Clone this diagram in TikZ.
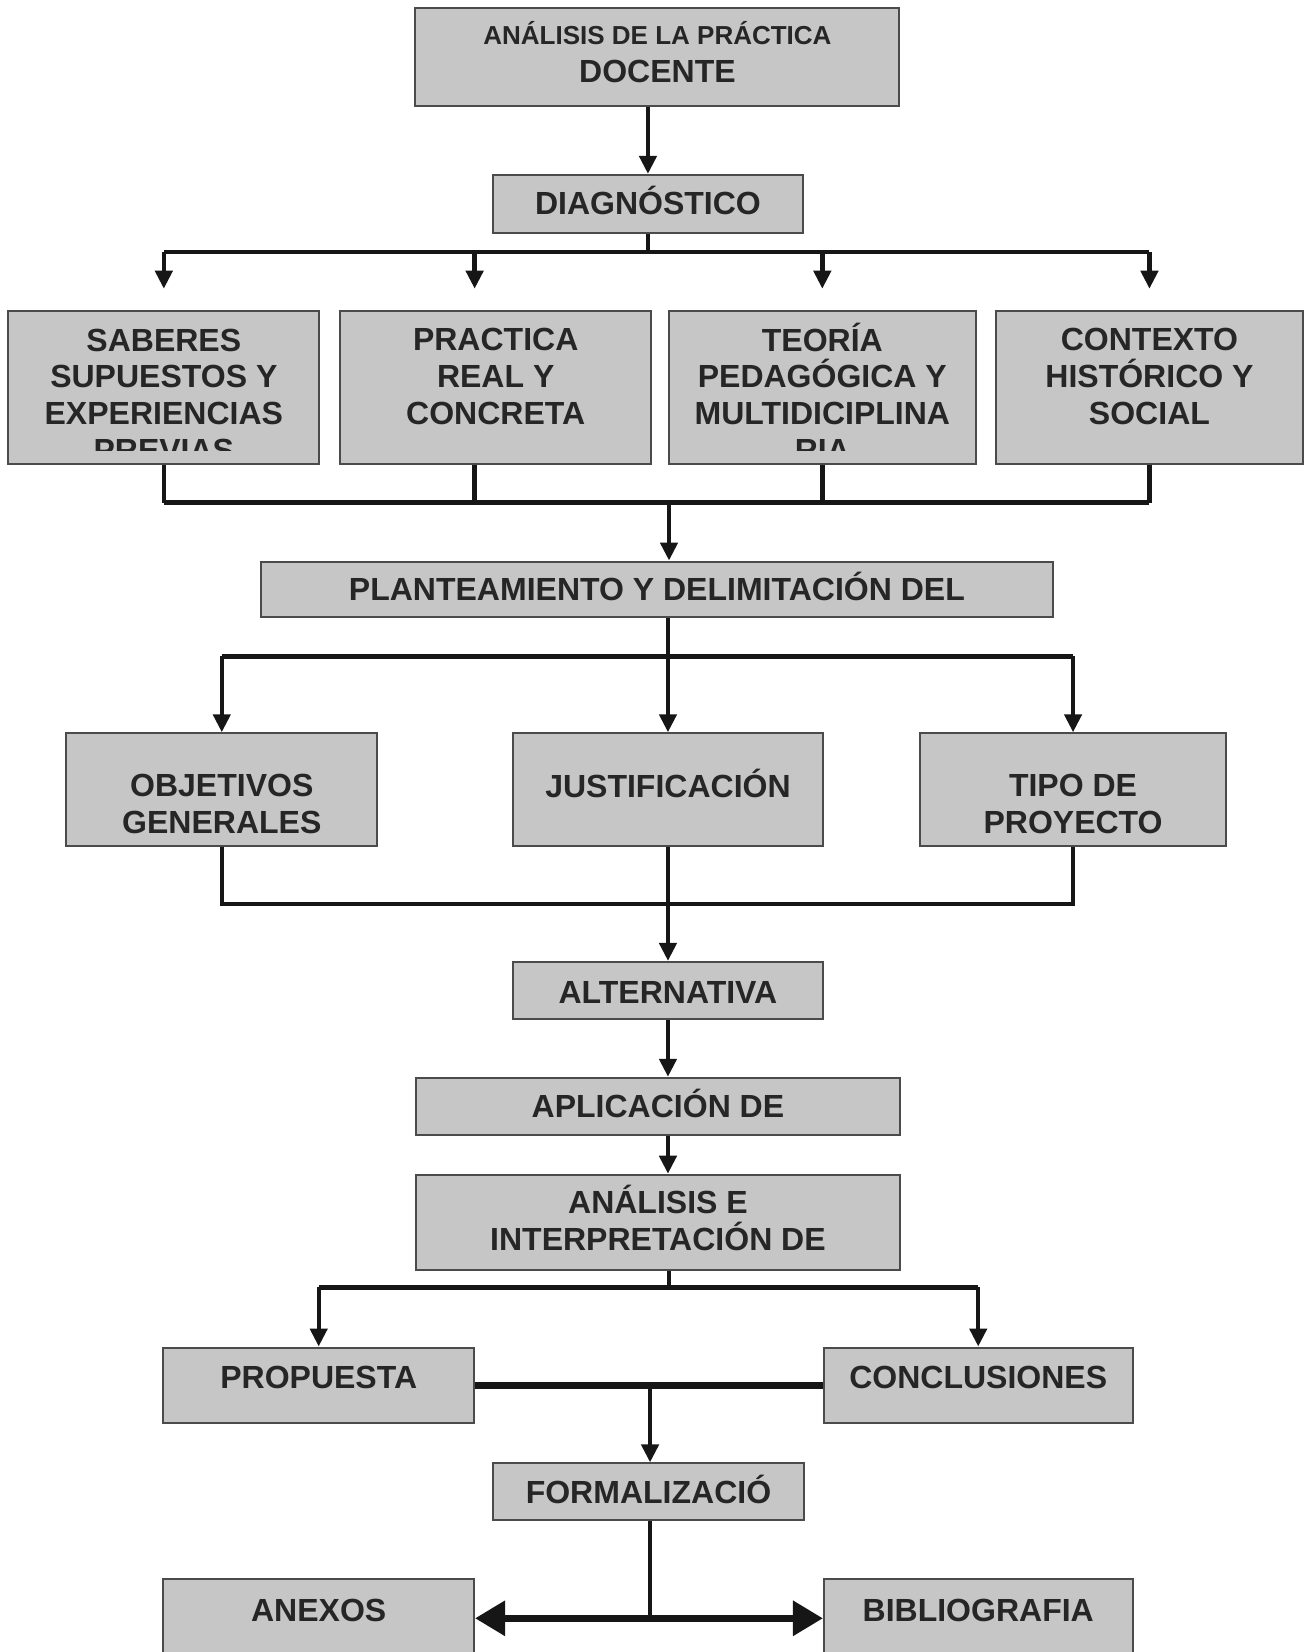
\documentclass[tikz,border=0pt]{standalone}
\usepackage{fontspec}
\setmainfont{Liberation Sans}
\usetikzlibrary{arrows.meta,fit,calc}
\definecolor{boxfill}{RGB}{198,198,198}
\definecolor{boxline}{RGB}{75,75,75}
\definecolor{txtcol}{RGB}{38,38,38}
\definecolor{lncol}{RGB}{22,22,22}
\begin{document}
\begin{tikzpicture}[x=0.5266pt,y=-0.5266pt,
  box/.style={draw=boxline,line width=1pt,fill=boxfill,inner sep=0pt},
  txt/.style={font=\fontsize{16}{18.4}\selectfont\bfseries,text=txtcol,align=center,inner sep=0pt,anchor=base},
  smalltxt/.style={txt,font=\fontsize{13}{15}\selectfont\bfseries},
  ln/.style={draw=lncol,line width=2.2pt},
  thickln/.style={draw=lncol,line width=3.2pt},
  arr/.style={ln,-{Triangle[length=9pt,width=8.5pt]}},
  dblarr/.style={thickln,{Triangle[length=15pt,width=17pt]}-{Triangle[length=15pt,width=17pt]}}
]
\clip (0,0) rectangle (1241,1568);
\fill[white] (0,0) rectangle (1241,1568);

% boxes
\node[box,fit={(394,8) (853,101)}] (top) {};
\node[box,fit={(468,166) (762,221)}] (diag) {};
\node[box,fit={(8,295) (303,440)}] (b1) {};
\node[box,fit={(323,295) (618,440)}] (b2) {};
\node[box,fit={(635,295) (926,440)}] (b3) {};
\node[box,fit={(945,295) (1237,440)}] (b4) {};
\node[box,fit={(248,533) (999,586)}] (plant) {};
\node[box,fit={(63,696) (358,803)}] (obj) {};
\node[box,fit={(487,696) (781,803)}] (just) {};
\node[box,fit={(873,696) (1164,803)}] (tipo) {};
\node[box,fit={(487,913) (781,967)}] (alt) {};
\node[box,fit={(395,1023) (854,1077)}] (apl) {};
\node[box,fit={(395,1115) (854,1205)}] (ana) {};
\node[box,fit={(155,1279) (450,1351)}] (prop) {};
\node[box,fit={(782,1279) (1075,1351)}] (concl) {};
\node[box,fit={(468,1389) (763,1443)}] (form) {};
\node[box,fit={(155,1499) (450,1610)}] (anx) {};
\node[box,fit={(782,1499) (1075,1610)}] (bib) {};

% texts (anchor=base is the baseline of the last line)
\node[smalltxt] (ttopa) at (624,42) {ANÁLISIS DE LA PRÁCTICA};
\node[txt] (ttopb) at (624,78) {DOCENTE};
\node[txt] (tdiag) at (diag.center |- 0,204) {DIAGNÓSTICO};
\begin{scope}
\clip (8,295) rectangle (303,428);
\node[txt] (tb1) at (b1.center |- 0,438) {SABERES\\SUPUESTOS Y\\EXPERIENCIAS\\PREVIAS};
\end{scope}
\node[txt] (tb2) at (b2.center |- 0,403) {PRACTICA\\REAL Y\\CONCRETA};
\begin{scope}
\clip (635,295) rectangle (926,428);
\node[txt] (tb3) at (b3.center |- 0,438) {TEORÍA\\PEDAGÓGICA Y\\MULTIDICIPLINA\\RIA};
\end{scope}
\node[txt] (tb4) at (b4.center |- 0,403) {CONTEXTO\\HISTÓRICO Y\\SOCIAL};
\node[txt] (tplant) at (plant.center |- 0,570) {PLANTEAMIENTO Y DELIMITACIÓN DEL};
\node[txt] (tobj) at (obj.center |- 0,791) {OBJETIVOS\\GENERALES};
\node[txt] (tjust) at (just.center |- 0,757) {JUSTIFICACIÓN};
\node[txt] (ttipo) at (tipo.center |- 0,791) {TIPO DE\\PROYECTO};
\node[txt] (talt) at (alt.center |- 0,952) {ALTERNATIVA};
\node[txt] (tapl) at (apl.center |- 0,1061) {APLICACIÓN DE};
\node[txt] (tana) at (ana.center |- 0,1187) {ANÁLISIS E\\INTERPRETACIÓN DE};
\node[txt] (tprop) at (prop.center |- 0,1318) {PROPUESTA};
\node[txt] (tconcl) at (concl.center |- 0,1318) {CONCLUSIONES};
\node[txt] (tform) at (form.center |- 0,1427) {FORMALIZACIÓ};
\node[txt] (tanx) at (anx.center |- 0,1539) {ANEXOS};
\node[txt] (tbib) at (bib.center |- 0,1539) {BIBLIOGRAFIA};

% junction points
\coordinate (bus1) at (615,239);
\coordinate (bus2) at (635,477);
\coordinate (bus3) at (635,623);
\coordinate (bus4) at (635,858);
\coordinate (bus5) at (635,1222);
\coordinate (bus6) at (617,1536);

% connectors
\draw[arr] (top.south -| diag.north) -- (diag.north);
\draw[ln] (diag.south) -- (bus1);
\draw[ln] (bus1 -| b1.north) -- (bus1 -| b4.north);
\draw[arr] (bus1 -| b1.north) -- ($(b1.north)+(0,-20)$);
\draw[arr] ($(bus1 -| b2.north)+(-20,0)$) -- ($(b2.north)+(-20,-20)$);
\draw[arr] (bus1 -| b3.north) -- ($(b3.north)+(0,-20)$);
\draw[arr] (bus1 -| b4.north) -- ($(b4.north)+(0,-20)$);

\draw[ln] (b1.south) -- (bus2 -| b1.south);
\draw[ln] ($(b2.south)+(-20,0)$) -- ($(bus2 -| b2.south)+(-20,0)$);
\draw[ln] (b3.south) -- (bus2 -| b3.south);
\draw[ln] (b4.south) -- (bus2 -| b4.south);
\draw[ln] (bus2 -| b1.south) -- (bus2 -| b4.south);
\draw[arr] (bus2) -- (plant.north -| bus2);

\draw[arr] (plant.south -| just.north) -- (just.north);
\draw[ln] (bus3 -| obj.north) -- (bus3 -| tipo.north);
\draw[arr] (bus3 -| obj.north) -- (obj.north);
\draw[arr] (bus3 -| tipo.north) -- (tipo.north);

\draw[ln] (obj.south) -- (bus4 -| obj.south) -- (bus4 -| tipo.south) -- (tipo.south);
\draw[arr] (just.south) -- (alt.north -| just.south);

\draw[arr] (alt.south) -- (apl.north -| alt.south);
\draw[arr] (apl.south -| alt.south) -- (ana.north -| alt.south);
\draw[ln] (ana.south -| bus5) -- (bus5);
\draw[ln] (bus5 -| prop.north) -- (bus5 -| concl.north);
\draw[arr] (bus5 -| prop.north) -- (prop.north);
\draw[arr] (bus5 -| concl.north) -- (concl.north);

\draw[thickln] (prop.east) -- (concl.west);
\draw[arr] (prop.east -| bus6) -- (form.north -| bus6);
\draw[ln] (form.south -| bus6) -- (bus6);
\draw[dblarr] (bus6 -| anx.east) -- (bus6 -| bib.west);
\end{tikzpicture}
\end{document}
